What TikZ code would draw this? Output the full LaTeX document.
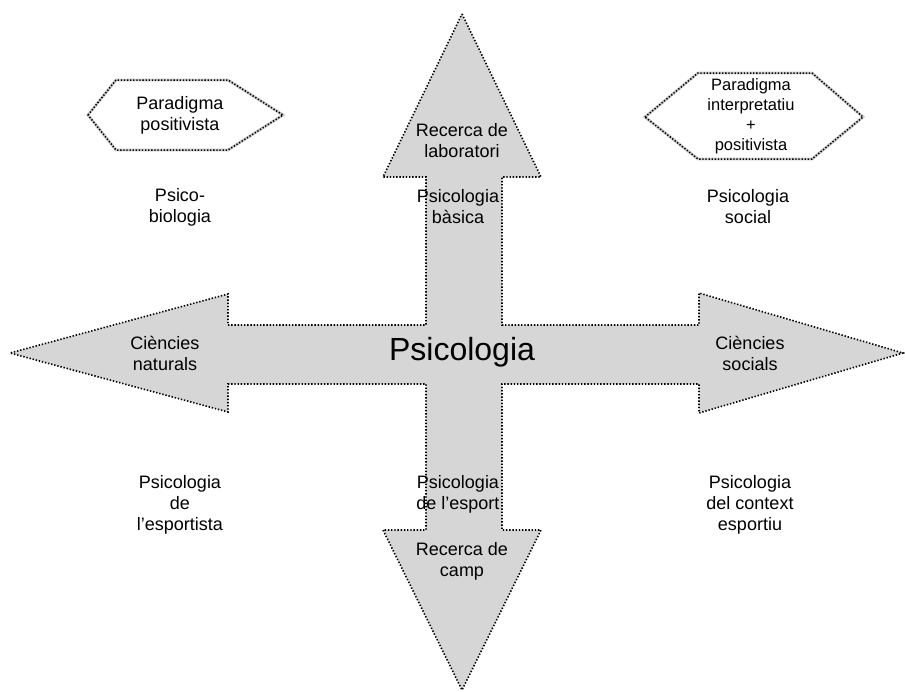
\documentclass[tikz,border=0pt]{standalone}
\usepackage{fontspec}
\setmainfont{Liberation Sans}
\usepackage{tikz}
\usetikzlibrary{positioning, calc}

\definecolor{crossgray}{RGB}{214,214,214}
\definecolor{hexgray}{RGB}{200,200,200}

\begin{document}
\begin{tikzpicture}[
  x=1pt, y=-1pt,
  crossfill/.style = {fill=crossgray, draw=black, line width=1.6pt, dash pattern=on 1.4pt off 1.8pt},
  hexshade/.style  = {draw=hexgray, line width=2.8pt},
  hexline/.style   = {draw=black, line width=1.5pt, dash pattern=on 1.3pt off 1.8pt},
  lbl/.style       = {align=center, font=\fontsize{18}{21}\selectfont, inner sep=0pt},
  smalllbl/.style  = {align=center, font=\fontsize{16.5}{20}\selectfont, inner sep=0pt},
  biglbl/.style    = {font=\fontsize{32}{36}\selectfont, inner sep=0pt}
]
  \useasboundingbox (0,0) rectangle (905,691);

  % Cross of four arrows
  \path[crossfill] (462,14) -- (541,177) -- (502,177) -- (502,325) -- (699,325)
    -- (699,293) -- (903,353) -- (699,413) -- (699,384) -- (502,384)
    -- (502,530) -- (541,530) -- (462,690) -- (383,530) -- (426,530)
    -- (426,384) -- (228,384) -- (228,412) -- (10,353) -- (228,294)
    -- (228,325) -- (426,325) -- (426,177) -- (383,177) -- cycle;

  % Paradigm hexagons
  \path[fill=white, hexshade] (88,115) -- (116,80) -- (228,80) -- (283,115)
    -- (228,150) -- (116,150) -- cycle;
  \path[hexline] (88,115) -- (116,80) -- (228,80) -- (283,115)
    -- (228,150) -- (116,150) -- cycle;
  \path[fill=white, hexshade] (645,117) -- (698,73) -- (812,73) -- (863,117)
    -- (812,159) -- (698,159) -- cycle;
  \path[hexline] (645,117) -- (698,73) -- (812,73) -- (863,117)
    -- (812,159) -- (698,159) -- cycle;

  \node[lbl] (parpos) at (180,115) {Paradigma\\positivista};
  \node[smalllbl] (parint) at (751,116) {Paradigma\\interpretatiu\\+\\positivista};

  % Labels on the arrows
  \node[lbl] (reclab) at (462,141) {Recerca de\\laboratori};
  \node[lbl] (psibas) at (458,207) {Psicologia\\bàsica};
  \node[lbl] (cienat) at (165,353) {Ciències\\naturals};
  \node[biglbl] (psico) at (462,352) {Psicologia};
  \node[lbl] (ciesoc) at (750,353) {Ciències\\socials};
  \node[lbl] (psiesp) at (458,494) {Psicologia\\de l'esport};
  \node[lbl] (reccam) at (462,561) {Recerca de\\camp};

  % Fields in the quadrants
  \node[lbl] (psibio) at (180,207) {Psico-\\biologia};
  \node[lbl] (psisoc) at (748,207) {Psicologia\\social};
  \node[lbl] (psiest) at (180,505) {Psicologia\\de\\l'esportista};
  \node[lbl] (psictx) at (750,505) {Psicologia\\del context\\esportiu};

\end{tikzpicture}
\end{document}
